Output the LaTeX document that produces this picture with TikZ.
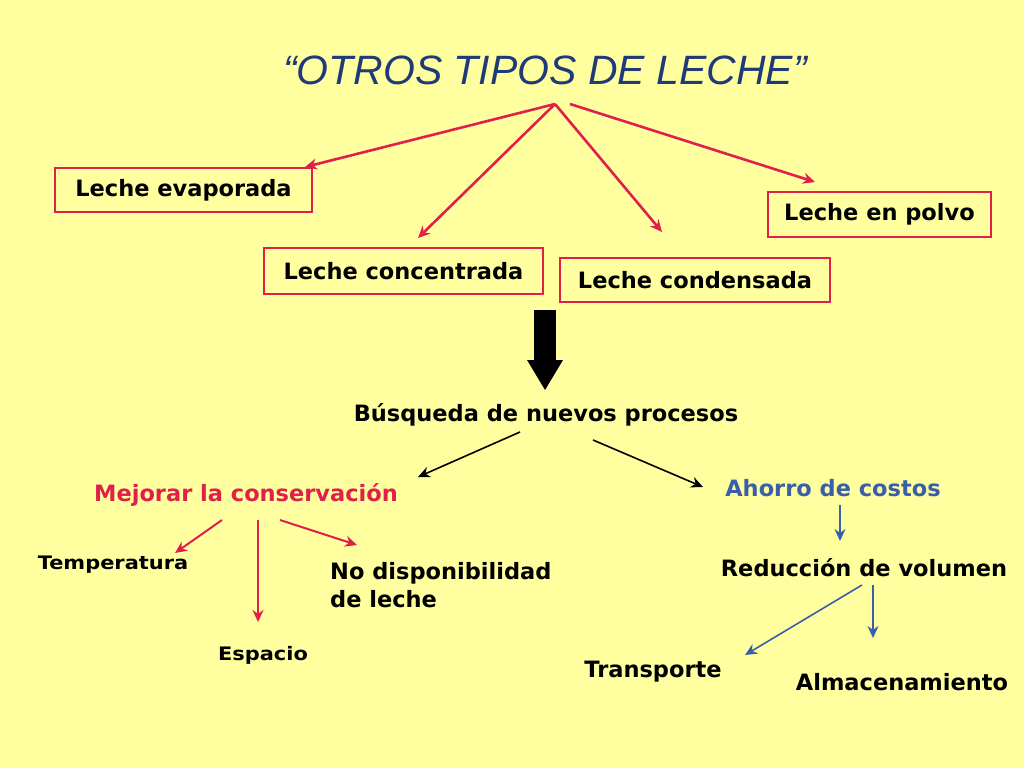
\documentclass[tikz,border=0pt]{standalone}
\usepackage{fontspec}
\setmainfont{DejaVu Sans}
\newfontfamily\titlefont{Liberation Sans}
\usetikzlibrary{arrows.meta}
\definecolor{bg}{HTML}{FFFFA0}
\definecolor{rd}{HTML}{E0204A}
\definecolor{bl}{HTML}{3A5FA8}
\definecolor{tb}{HTML}{1F3A78}
\tikzset{
 box/.style={draw=rd,line width=1.6pt,fill=bg,inner sep=0pt,font=\bfseries\fontsize{22.5}{26}\selectfont},
 lbl/.style={font=\bfseries\fontsize{22.5}{26}\selectfont,inner sep=0pt},
 sml/.style={font=\bfseries\fontsize{15.5}{18}\selectfont,inner sep=0pt,xscale=1.35,yscale=1.2},
 ra/.style={rd,line width=2.6pt,-{Stealth[length=12pt,width=11pt]}},
 ka/.style={black,line width=1.6pt,-{Stealth[length=12pt,width=11pt]}},
 ba/.style={bl,line width=1.6pt,-{Stealth[length=12pt,width=11pt]}},
}
\begin{document}
\begin{tikzpicture}[x=1pt,y=-1pt]
\fill[bg] (0,0) rectangle (1024,768);
\node[font=\titlefont\itshape\fontsize{41}{46}\selectfont,text=tb] (t) at (545,70) {“OTROS TIPOS DE LECHE”};
\node[box,minimum width=257,minimum height=44] (ev) at (183.5,190) {Leche evaporada};
\node[box,minimum width=279,minimum height=46] (co) at (403.5,271) {Leche concentrada};
\node[box,minimum width=270,minimum height=44] (cd) at (695,280) {Leche condensada};
\node[box,minimum width=223,minimum height=45] (po) at (879.5,214.5) {Leche en polvo};
\coordinate (s1) at (555,104); \coordinate (s2) at (570,104);
\coordinate (e1) at (305,167); \coordinate (e2) at (418,238);
\coordinate (e3) at (662,232); \coordinate (e4) at (815,182);
\draw[ra] (s1) -- (e1); \draw[ra] (s1) -- (e2);
\draw[ra] (s1) -- (e3); \draw[ra] (s2) -- (e4);
\fill (534,310) rectangle (556,360);
\fill (527,360) -- (563,360) -- (545,390) -- cycle;
\node[lbl] (bu) at (546,415) {Búsqueda de nuevos procesos};
\node[lbl,text=rd] (me) at (246,495) {Mejorar la conservación};
\node[lbl,text=bl] (ah) at (833,488) {Ahorro de costos};
\coordinate (b1) at (520,432); \coordinate (b2) at (593,440);
\coordinate (m) at (418,477); \coordinate (a) at (703,487);
\draw[ka] (b1) -- (m); \draw[ka] (b2) -- (a);
\node[sml] (te) at (113,565) {Temperatura};
\node[sml] (es) at (263,655) {Espacio};
\node[lbl,align=left,anchor=west] (no) at (330,585) {No disponibilidad\\[2pt]de leche};
\coordinate (m1) at (222,520); \coordinate (m2) at (258,520); \coordinate (m3) at (280,520);
\coordinate (t1) at (175,553); \coordinate (t2) at (258,622); \coordinate (t3) at (357,545);
\draw[ra,line width=2pt] (m1) -- (t1);
\draw[ra,line width=2pt] (m2) -- (t2);
\draw[ra,line width=2pt] (m3) -- (t3);
\node[lbl] (re) at (864,568) {Reducción de volumen};
\node[lbl] (tr) at (653,672) {Transporte};
\node[lbl] (al) at (902,682) {Almacenamiento};
\coordinate (h1) at (840,505); \coordinate (h2) at (840,541);
\draw[ba] (h1) -- (h2);
\coordinate (r1) at (862,585); \coordinate (r2) at (873,585);
\coordinate (r3) at (745,655); \coordinate (r4) at (873,638);
\draw[ba] (r1) -- (r3); \draw[ba] (r2) -- (r4);
\end{tikzpicture}
\end{document}
